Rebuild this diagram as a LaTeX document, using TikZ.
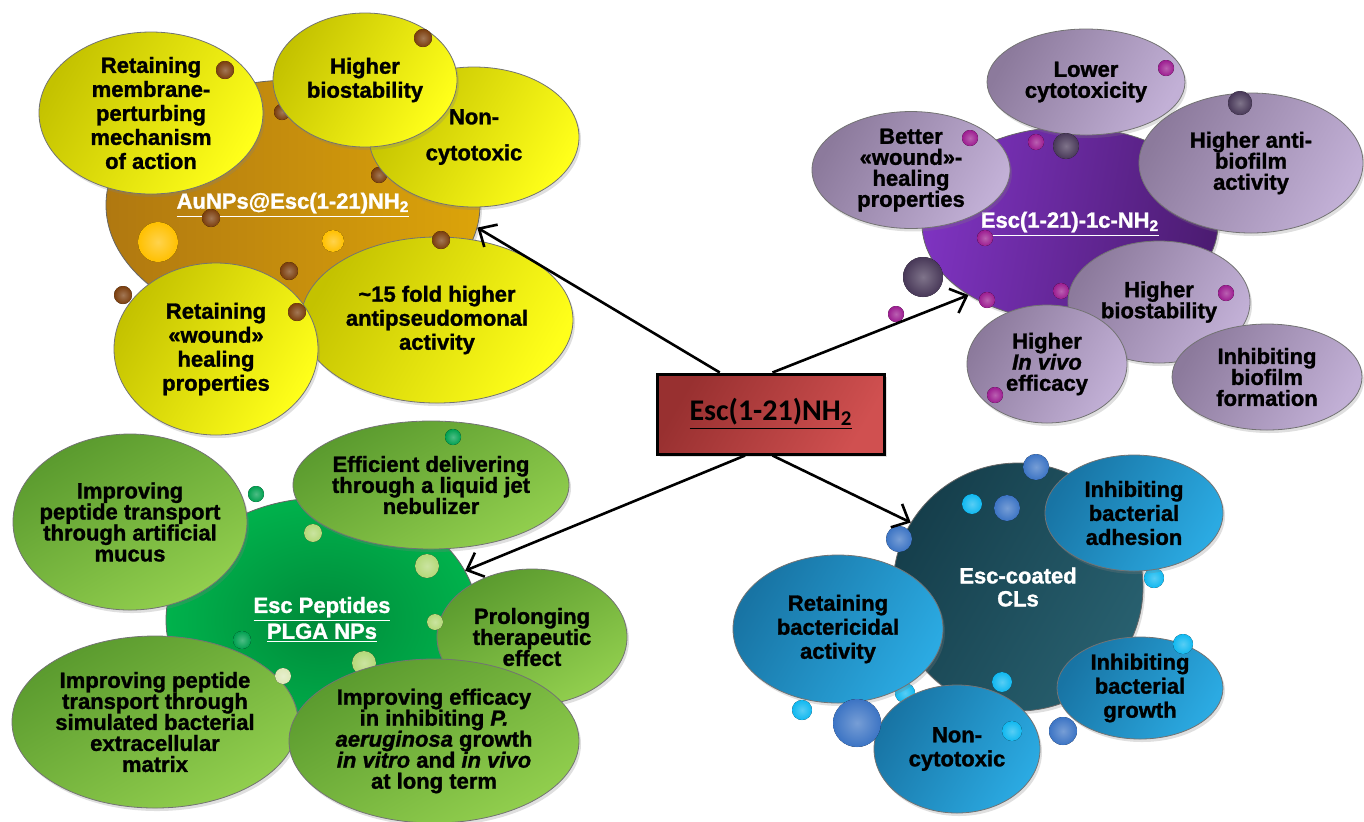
\documentclass[tikz,border=0pt]{standalone}
\usepackage{fontspec}
\setmainfont{Liberation Sans}[BoldFeatures={FakeBold=1.3}, BoldItalicFeatures={FakeBold=1.3}]
\newfontfamily\calibri{Carlito}
\usetikzlibrary{shapes.geometric, arrows.meta, shadows}

% gold / brown
\definecolor{audark}{HTML}{B07810}
\definecolor{aulight}{HTML}{DCA40A}
\definecolor{yldark}{HTML}{C4C200}
\definecolor{yllight}{HTML}{FFFF1A}
\definecolor{brdot}{HTML}{7A3D0C}
\definecolor{gddot}{HTML}{FFC000}
% purple
\definecolor{pucore}{HTML}{7E33C0}
\definecolor{pucoredk}{HTML}{4C1C72}
\definecolor{pudark}{HTML}{8C7A9C}
\definecolor{pulight}{HTML}{C2B0D6}
\definecolor{mgdot}{HTML}{9C1C90}
\definecolor{pkdot}{HTML}{483858}
% green
\definecolor{gncore}{HTML}{008A3A}
\definecolor{gnedge}{HTML}{00B24C}
\definecolor{gndark}{HTML}{5A9A2E}
\definecolor{gnlight}{HTML}{92CF4E}
\definecolor{gndot}{HTML}{00A050}
\definecolor{lgdot}{HTML}{B4D878}
\definecolor{pldot}{HTML}{DDE8B8}
% teal / blue
\definecolor{tldark}{HTML}{153E4B}
\definecolor{tllight}{HTML}{28606F}
\definecolor{bldark}{HTML}{1874A4}
\definecolor{bllight}{HTML}{2BAAE2}
\definecolor{sbdot}{HTML}{3C74C4}
\definecolor{cydot}{HTML}{10B8F0}
% centre box
\definecolor{rddark}{HTML}{983030}
\definecolor{rdlight}{HTML}{D05050}

\begin{document}
\begin{tikzpicture}[
        x=0.5pt, y=-0.5pt,
        shad/.style={drop shadow={opacity=0.25, shadow xshift=1pt, shadow yshift=-1.5pt}},
        core/.style={ellipse, draw=black!60, line width=0.4pt, inner sep=0pt, shad,
            text=white, font=\bfseries\fontsize{11}{11.5}\selectfont, align=center},
        bub/.style={ellipse, draw=black!55, line width=0.4pt, inner sep=0pt, inner xsep=-10pt, shad,
            align=center},
        ybub/.style={bub, left color=yldark, right color=yllight, shading angle=60,
            font=\bfseries\fontsize{11}{12}\selectfont},
        pbub/.style={bub, left color=pudark, right color=pulight, shading angle=60,
            font=\bfseries\fontsize{11}{10.5}\selectfont},
        gbub/.style={bub, left color=gndark, right color=gnlight, shading angle=30,
            font=\bfseries\fontsize{11}{10.5}\selectfont},
        bbub/.style={bub, left color=bldark, right color=bllight, shading angle=60,
            font=\bfseries\fontsize{11}{12}\selectfont},
        dot/.style={inner color=#1!70!white, outer color=#1},
        arr/.style={-{Straight Barb[length=7pt, width=13pt]}, line width=1.3pt},
        escbox/.style={rectangle, draw=black, line width=1.5pt, shad,
            left color=rddark, right color=rdlight, shading angle=60,
            minimum width=113.5pt, minimum height=40pt,
            font=\calibri\bfseries\fontsize{15}{18}\selectfont}
    ]
    \useasboundingbox (0,0) rectangle (1364,821);

    %% AuNPs
    \node[core, left color=audark, right color=aulight, minimum width=187pt, minimum height=125pt]
        (au) at (293,205) {\underline{AuNPs@Esc(1-21)NH\textsubscript{2}}};
    \foreach \x/\y/\r in {282/112/8, 379/175/8}
        \fill[dot=brdot] (\x,\y) circle[radius=\r];
    \fill[dot=gddot] (398,147) circle[radius=11];
    \node[ybub, minimum width=112pt, minimum height=81pt] (au-mech) at (151,113)
        {Retaining\\membrane-\\perturbing\\mechanism\\of action};
    \node[ybub, minimum width=105pt, minimum height=70pt] (au-tox) at (474,137)
        {Non-\\[6pt]cytotoxic};
    \node[ybub, minimum width=92pt, minimum height=67pt] (au-stab) at (365,80)
        {Higher\\biostability};
    \node[ybub, minimum width=136pt, minimum height=83pt] (au-fold) at (437,320)
        {\textasciitilde15 fold higher\\antipseudomonal\\activity};
    \node[ybub, minimum width=102pt, minimum height=86pt] (au-wound) at (216,349)
        {Retaining\\«wound»\\healing\\properties};
    \foreach \x/\y/\r in {423/38/9, 225/70/9, 211/218/9, 289/271/9, 441/240/9, 123/295/9, 297/312/9}
        \fill[dot=brdot] (\x,\y) circle[radius=\r];
    \fill[dot=gddot] (158,242) circle[radius=20];
    \fill[dot=gddot] (333,241) circle[radius=11];

    %% Esc(1-21)-1c-NH2
    \node[core, left color=pucore, right color=pucoredk, shading angle=80, minimum width=148pt, minimum height=97pt]
        (esc1c) at (1070,224) {\underline{Esc(1-21)-1c-NH\textsubscript{2}}};
    \fill[dot=mgdot] (1061,291) circle[radius=8];
    \node[pbub, minimum width=99pt, minimum height=55pt] (pu-wound) at (911,170)
        {Better\\«wound»-\\healing\\properties};
    \node[pbub, minimum width=99pt, minimum height=53pt] (pu-tox) at (1086,82)
        {Lower\\cytotoxicity};
    \node[pbub, minimum width=112pt, minimum height=70pt] (pu-film) at (1251,163)
        {Higher anti-\\biofilm\\activity};
    \node[pbub, minimum width=91pt, minimum height=61pt] (pu-stab) at (1159,302)
        {Higher\\biostability};
    \node[pbub, minimum width=80pt, minimum height=59pt] (pu-vivo) at (1047,364)
        {Higher\\\textit{In vivo}\\efficacy};
    \node[pbub, minimum width=95pt, minimum height=53pt] (pu-form) at (1267,377)
        {Inhibiting\\biofilm\\formation};
    \foreach \x/\y in {1166/68, 970/138, 1036/142, 985/238, 987/300, 1226/293, 896/314, 995/395}
        \fill[dot=mgdot] (\x,\y) circle[radius=8];
    \foreach \x/\y/\r in {1066/146/13, 1240/103/12, 923/277/20}
        \fill[dot=pkdot] (\x,\y) circle[radius=\r];

    %% PLGA nanoparticles
    \node[core, inner color=gncore, outer color=gnedge, minimum width=156pt, minimum height=122pt]
        (plga) at (322,620) {\underline{Esc Peptides}\\\underline{PLGA NPs}};
    \fill[dot=gndot] (471,661) circle[radius=7];
    \fill[dot=lgdot] (364,663) circle[radius=12];
    \node[gbub, minimum width=117pt, minimum height=88pt] (pl-mucus) at (130,522)
        {Improving\\peptide transport\\through artificial\\mucus};
    \node[gbub, minimum width=138pt, minimum height=64pt] (pl-jet) at (431,485)
        {Efficient delivering\\through a liquid jet\\nebulizer};
    \node[gbub, minimum width=95pt, minimum height=68pt] (pl-long) at (532,637)
        {Prolonging\\therapeutic\\effect};
    \node[gbub, minimum width=143pt, minimum height=86pt] (pl-matrix) at (155,722)
        {Improving peptide\\transport through\\simulated bacterial\\extracellular\\matrix};
    \node[gbub, minimum width=145pt, minimum height=82pt] (pl-vivo) at (434,741)
        {Improving efficacy\\in inhibiting \textit{P.}\\\textit{aeruginosa} growth\\\textit{in vitro} and \textit{in vivo}\\at long term};
    \foreach \x/\y/\r in {453/437/8, 256/494/8, 242/640/9}
        \fill[dot=gndot] (\x,\y) circle[radius=\r];
    \foreach \x/\y/\r in {313/533/9, 427/566/12, 435/622/8}
        \fill[dot=lgdot] (\x,\y) circle[radius=\r];
    \fill[dot=pldot] (283,676) circle[radius=8];

    %% Esc-coated contact lenses
    \node[core, left color=tldark, right color=tllight, shading angle=60, minimum width=125pt, minimum height=124pt]
        (cl) at (1018,587) {Esc-coated\\CLs};
    \foreach \x/\y in {1154/578, 905/693}
        \fill[dot=cydot] (\x,\y) circle[radius=10];
    \node[bbub, minimum width=89pt, minimum height=58pt] (cl-adh) at (1134,513)
        {Inhibiting\\bacterial\\adhesion};
    \node[bbub, minimum width=105pt, minimum height=74pt] (cl-kill) at (838,629)
        {Retaining\\bactericidal\\activity};
    \node[bbub, minimum width=83pt, minimum height=51pt] (cl-grow) at (1140,688)
        {Inhibiting\\bacterial\\growth};
    \node[bbub, minimum width=83pt, minimum height=64pt] (cl-tox) at (957,749)
        {Non-\\cytotoxic};
    \foreach \x/\y/\r in {1036/467/13, 1007/508/13, 899/539/13, 857/723/24, 1063/731/14}
        \fill[dot=sbdot] (\x,\y) circle[radius=\r];
    \foreach \x/\y in {972/504, 1183/644, 1002/682, 802/710, 1012/731}
        \fill[dot=cydot] (\x,\y) circle[radius=10];

    %% parent peptide
    \node[escbox] (box) at (771,414) {\underline{Esc(1-21)NH\textsubscript{2}}};

    \draw[arr] (box.141) -- (au.-7);
    \draw[arr] (box.88)  -- (esc1c.215);
    \draw[arr] (box.-122) -- (plga.19);
    \draw[arr] (box.-88) -- (cl.149);
\end{tikzpicture}
\end{document}
